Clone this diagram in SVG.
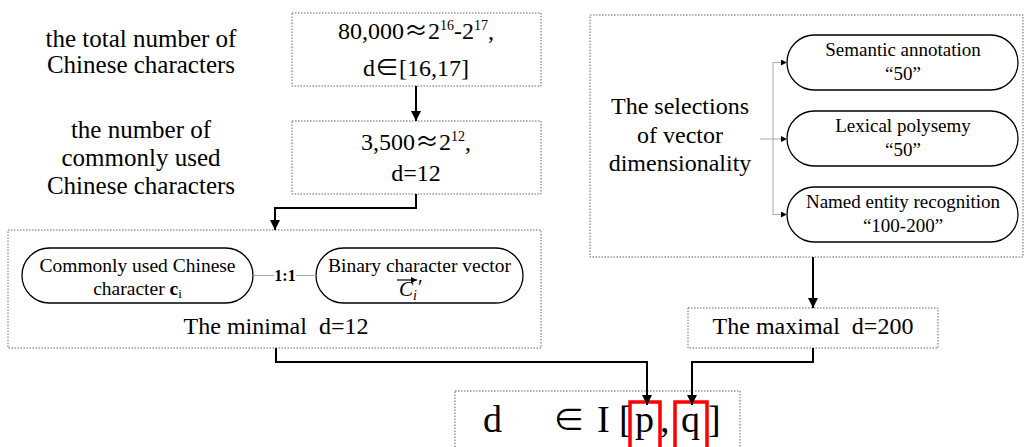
<svg xmlns="http://www.w3.org/2000/svg" width="1025" height="447" viewBox="0 0 1025 447" font-family="'Liberation Serif', 'DejaVu Serif', serif">
<style>
text{font-family:'Liberation Serif','DejaVu Serif',serif;fill:#000}
text.sym,tspan.sym{font-family:'Noto Sans CJK SC','DejaVu Sans',sans-serif}
.dot{fill:none;stroke:#666;stroke-width:1;stroke-dasharray:1.5 1.5}
.oval{fill:#fff;stroke:#000;stroke-width:1.3}
.conn{fill:none;stroke:#000;stroke-width:2}
.thin{fill:none;stroke:#aaa;stroke-width:1}
.red{fill:none;stroke:#f00;stroke-width:3.5}
</style>
<defs>
<marker id="ah" markerUnits="userSpaceOnUse" markerWidth="11" markerHeight="11" refX="10" refY="5" orient="auto">
<path d="M0,0 L10,5 L0,10 z" fill="#000"/>
</marker>
<marker id="sa" markerUnits="userSpaceOnUse" markerWidth="7" markerHeight="7" refX="6" refY="3" orient="auto">
<path d="M0,0 L6,3 L0,6 z" fill="#000"/>
</marker>
</defs>
<rect width="1025" height="447" fill="#fff"/>

<g id="label-total" font-size="25" text-anchor="middle">
<text x="141" y="47">the total number of</text>
<text x="141" y="73">Chinese characters</text>
</g>
<g id="label-common" font-size="25" text-anchor="middle">
<text x="141" y="138">the number of</text>
<text x="141" y="166">commonly used</text>
<text x="141" y="194">Chinese characters</text>
</g>

<g id="box-total">
<rect class="dot" x="292" y="13" width="249" height="73"/>
<text x="416" y="39" font-size="24" text-anchor="middle">80,000<tspan class="sym">≈</tspan>2<tspan font-size="14" dy="-9">16</tspan><tspan dy="9">-2</tspan><tspan font-size="14" dy="-9">17</tspan><tspan dy="9">,</tspan></text>
<text x="416" y="76" font-size="24" text-anchor="middle">d<tspan class="sym">∈</tspan>[16,17]</text>
</g>

<g id="box-common">
<rect class="dot" x="292" y="121" width="249" height="73"/>
<text x="416" y="150" font-size="24" text-anchor="middle">3,500<tspan class="sym">≈</tspan>2<tspan font-size="14" dy="-9">12</tspan><tspan dy="9">,</tspan></text>
<text x="416" y="181" font-size="24" text-anchor="middle">d=12</text>
</g>

<g id="box-minimal">
<rect class="dot" x="8" y="230" width="533" height="118"/>
<g id="oval-char">
<rect class="oval" x="22" y="248" width="231" height="55" rx="27.5"/>
<text x="137.5" y="272" font-size="19.5" text-anchor="middle">Commonly used Chinese</text>
<text x="137.5" y="295" font-size="19.5" text-anchor="middle">character <tspan font-weight="bold">c</tspan><tspan font-size="13" dy="3">i</tspan></text>
</g>
<g id="oval-vector">
<rect class="oval" x="316" y="248" width="207" height="55" rx="27.5"/>
<text x="419.5" y="272" font-size="19.5" text-anchor="middle">Binary character vector</text>
<text x="399" y="296" font-size="21" font-style="italic">C<tspan font-size="14" dy="4">i</tspan><tspan dy="-6" font-style="normal" dx="1">′</tspan></text>
<line x1="397" y1="280" x2="417" y2="280" stroke="#000" stroke-width="1.2" marker-end="url(#sa)"/>
</g>
<g id="link-1to1">
<line class="thin" x1="253" y1="275.5" x2="274" y2="275.5"/>
<line class="thin" x1="296" y1="275.5" x2="316" y2="275.5"/>
<text x="285" y="281" font-size="16" font-weight="bold" text-anchor="middle">1:1</text>
</g>
<text x="276" y="334" font-size="24" text-anchor="middle">The minimal&#160; d=12</text>
</g>

<g id="box-selections">
<rect class="dot" x="590" y="15" width="433" height="242"/>
<g font-size="24" text-anchor="middle">
<text x="680" y="114">The selections</text>
<text x="680" y="142.5">of vector</text>
<text x="680" y="171">dimensionality</text>
</g>
<g id="oval-semantic">
<rect class="oval" x="787" y="35" width="231" height="55" rx="27.5"/>
<text x="903" y="56" font-size="19" text-anchor="middle">Semantic annotation</text>
<text x="903" y="80" font-size="19" text-anchor="middle">“50”</text>
</g>
<g id="oval-lexical">
<rect class="oval" x="787" y="111" width="231" height="55" rx="27.5"/>
<text x="903" y="132" font-size="19" text-anchor="middle">Lexical polysemy</text>
<text x="903" y="156" font-size="19" text-anchor="middle">“50”</text>
</g>
<g id="oval-ner">
<rect class="oval" x="787" y="187" width="231" height="55" rx="27.5"/>
<text x="903" y="208" font-size="19" text-anchor="middle">Named entity recognition</text>
<text x="903" y="232" font-size="19" text-anchor="middle">“100-200”</text>
</g>
<g id="bracket">
<path class="thin" d="M760,139 H773 M773,62 V215"/>
<path class="thin" d="M773,62.5 H787" marker-end="url(#sa)"/>
<path class="thin" d="M773,139 H787" marker-end="url(#sa)"/>
<path class="thin" d="M773,214.5 H787" marker-end="url(#sa)"/>
</g>
</g>

<g id="box-maximal">
<rect class="dot" x="688" y="308" width="250" height="40"/>
<text x="813" y="334" font-size="24" text-anchor="middle">The maximal&#160; d=200</text>
</g>

<g id="box-result">
<rect class="dot" x="455" y="391" width="285" height="70"/>
<g font-size="38">
<text x="483" y="432">d</text>
<text x="553" y="431" class="sym" font-size="32">∈</text>
<text x="597" y="432">I</text>
<text x="619" y="432">[</text>
<text x="635" y="432">p</text>
<text x="660" y="432">,</text>
<text x="681" y="432">q</text>
<text x="708" y="432">]</text>
</g>
<rect class="red" x="630" y="402" width="30" height="50"/>
<rect class="red" x="675" y="402" width="32" height="50"/>
</g>

<g id="connectors">
<path class="conn" d="M416,86 V121" marker-end="url(#ah)"/>
<path class="conn" d="M416,194 V208 H275 V230" marker-end="url(#ah)"/>
<path class="conn" d="M813,257 V308" marker-end="url(#ah)"/>
<path class="conn" d="M276,348 V362 H647 V405" marker-end="url(#ah)"/>
<path class="conn" d="M813,348 V362 H692 V405" marker-end="url(#ah)"/>
</g>
</svg>
